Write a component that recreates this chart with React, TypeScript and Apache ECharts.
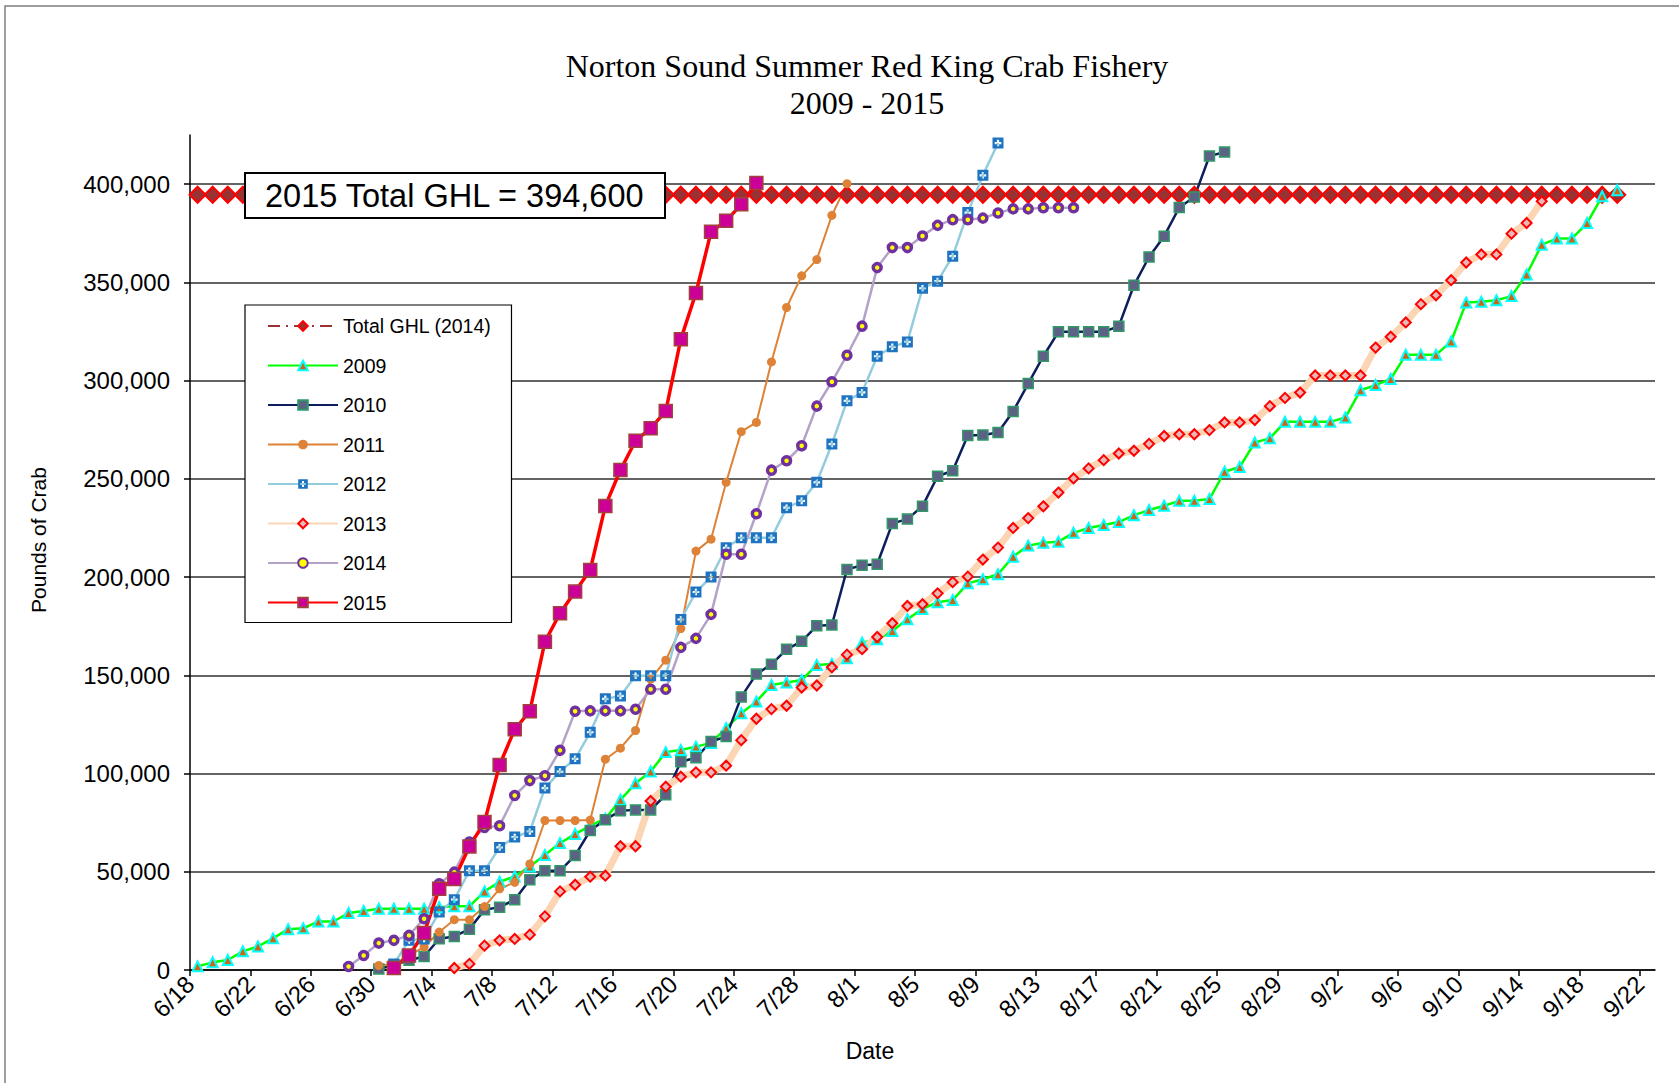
import React, { useEffect, useRef } from "react";
import * as echarts from "echarts";

// ---------- categories ----------
const MONTH_LEN: Record<number, number> = { 6: 30, 7: 31, 8: 31, 9: 30 };
function dateLabels(m: number, d: number, count: number): string[] {
  const out: string[] = [];
  for (let i = 0; i < count; i++) {
    out.push(`${m}/${d}`);
    d++;
    if (d > MONTH_LEN[m]) {
      d = 1;
      m++;
    }
  }
  return out;
}
// one slot per day, 6/18 … 9/23
const DAYS = dateLabels(6, 18, 97);
// slot boundaries (tick marks / labels), 6/18 … 9/24
const TICK_DATES = dateLabels(6, 18, 98);
const Y_TICKS = [0, 50000, 100000, 150000, 200000, 250000, 300000, 350000, 400000];

// ---------- series values (cumulative pounds) ----------
const GHL_START = "6/18";
const GHL = [
  394600, 394600, 394600, 394600, 394600, 394600, 394600, 394600, 394600, 394600,
  394600, 394600, 394600, 394600, 394600, 394600, 394600, 394600, 394600, 394600,
  394600, 394600, 394600, 394600, 394600, 394600, 394600, 394600, 394600, 394600,
  394600, 394600, 394600, 394600, 394600, 394600, 394600, 394600, 394600, 394600,
  394600, 394600, 394600, 394600, 394600, 394600, 394600, 394600, 394600, 394600,
  394600, 394600, 394600, 394600, 394600, 394600, 394600, 394600, 394600, 394600,
  394600, 394600, 394600, 394600, 394600, 394600, 394600, 394600, 394600, 394600,
  394600, 394600, 394600, 394600, 394600, 394600, 394600, 394600, 394600, 394600,
  394600, 394600, 394600, 394600, 394600, 394600, 394600, 394600, 394600, 394600,
  394600, 394600, 394600, 394600, 394600,
];

const Y2009_START = "6/18";
const Y2009 = [
  1850, 3900, 5100, 9500, 12000, 16100, 20800, 21200, 24700, 24700,
  29000, 30000, 31200, 31200, 31200, 31200, 32000, 32400, 32400, 40000,
  44900, 47600, 52700, 58500, 64600, 69200, 73500, 77000, 86600, 95000,
  101000, 110900, 112000, 113700, 115600, 123100, 130700, 136600, 145100, 146300,
  147600, 155300, 155800, 158700, 166600, 168300, 172600, 178500, 183800, 187200,
  188300, 196800, 198900, 201400, 210400, 216000, 217500, 218000, 222500, 225000,
  226500, 228000, 231500, 234100, 236300, 238800, 238800, 239700, 253600, 256000,
  268500, 270600, 279000, 279000, 279000, 279000, 281200, 295100, 297700, 300800,
  313100, 313100, 313100, 319900, 339700, 340100, 340900, 343000, 354000, 369200,
  372300, 372300, 380200, 393800, 396900,
];

const Y2010_START = "6/30";
const Y2010 = [
  500, 2500, 5000, 6900, 15900, 17100, 20800, 30700, 32000, 35800,
  45900, 50500, 50500, 58300, 71000, 76500, 81000, 81500, 81500, 89200,
  106000, 108000, 116300, 118800, 139000, 150600, 155600, 163200, 167300, 175200,
  175600, 203900, 206000, 206500, 227300, 229500, 236100, 251300, 254100, 272100,
  272300, 273600, 284300, 298500, 312400, 324800, 324800, 324800, 324800, 327700,
  348500, 362900, 373500, 388100, 393400, 414300, 416300,
];

const Y2011_START = "6/30";
const Y2011 = [
  2300, 3000, 7500, 11700, 19300, 25600, 25600, 32300, 41300, 44600,
  54000, 76100, 76100, 76100, 76300, 107300, 112900, 121900, 148000, 157700,
  173800, 213200, 219300, 248200, 274000, 278700, 309500, 337200, 353300, 361600,
  384100, 400200,
];

const Y2012_START = "7/1";
const Y2012 = [
  3000, 15100, 15800, 29500, 35800, 50500, 50500, 62400, 67700, 70500,
  92600, 101000, 107500, 121000, 138000, 139500, 149800, 149800, 149800, 178400,
  192400, 200000, 214900, 220000, 220000, 220000, 235300, 238800, 248200, 267700,
  289700, 294000, 312400, 317200, 319700, 347000, 350600, 363300, 385500, 404500,
  420900,
];

const Y2013_START = "7/5";
const Y2013 = [
  1000, 3100, 12400, 15100, 15800, 18000, 27300, 40000, 43400, 47500,
  48000, 63000, 63000, 86000, 93300, 98400, 100600, 100600, 104000, 117000,
  127900, 132800, 134500, 143800, 144800, 154100, 160500, 163300, 169500, 176500,
  185300, 186200, 191700, 197400, 200200, 208900, 215000, 225000, 230000, 236000,
  243000, 250200, 255300, 259500, 262900, 264300, 267800, 271800, 272700, 272700,
  274800, 278700, 278700, 279900, 287000, 291200, 293900, 302600, 302600, 302600,
  302600, 316800, 322300, 329600, 338900, 343400, 351100, 360100, 364200, 364200,
  374800, 380200, 391300,
];

const Y2014_START = "6/28";
const Y2014 = [
  1800, 7400, 13700, 15100, 17600, 26100, 43900, 49800, 65100, 72500,
  73400, 88800, 96400, 98900, 111800, 131700, 131900, 131900, 131900, 132700,
  142900, 142900, 164200, 168800, 181000, 211600, 211600, 232200, 254400, 259200,
  266800, 287000, 299400, 312900, 327700, 357500, 367700, 367700, 373600, 379000,
  381900, 381900, 382700, 385300, 387400, 387400, 388000, 388000, 388000,
];

const Y2015_START = "7/1";
const Y2015 = [
  1000, 7400, 18800, 41300, 46300, 62900, 75300, 104400, 122500, 131700,
  167100, 181600, 192600, 203600, 236200, 254500, 269400, 275700, 284500, 321100,
  344600, 375700, 381300, 389700, 400600,
];

// ---------- helpers ----------
function place(start: string, values: number[]): (number | null)[] {
  const i0 = DAYS.indexOf(start);
  const arr: (number | null)[] = DAYS.map(() => null);
  values.forEach((v, k) => {
    arr[i0 + k] = v;
  });
  return arr;
}

const SANS = '"Liberation Sans", Arial, Helvetica, sans-serif';
const SERIF = '"Liberation Serif", "Times New Roman", serif';

// square with a plus-shaped hole (2012 marker)
const PLUS_SQUARE =
  "path://M0 0 L10 0 L10 10 L0 10 Z M4 2 L4 4 L2 4 L2 6 L4 6 L4 8 L6 8 L6 6 L8 6 L8 4 L6 4 L6 2 Z";

export default function App() {
  const ref = useRef<HTMLDivElement>(null);

  useEffect(() => {
    if (!ref.current) return;
    const chart = echarts.init(ref.current, undefined, { renderer: "svg" });

    const lineBase = {
      type: "line" as const,
      xAxisIndex: 0,
      yAxisIndex: 0,
      showAllSymbol: true,
      connectNulls: false,
    };

    const option: any = {
      animation: false,
      backgroundColor: "#ffffff",
      grid: { left: 190, right: 24, top: 135, bottom: 113, containLabel: false },
      xAxis: [
        {
          type: "category",
          data: DAYS,
          boundaryGap: true,
          show: false,
          gridIndex: 0,
        },
        {
          type: "category",
          data: TICK_DATES,
          boundaryGap: false,
          position: "bottom",
          gridIndex: 0,
          axisLine: { show: true, onZero: false, lineStyle: { color: "#000", width: 1.5 } },
          axisTick: { show: true, interval: 3, length: 6, lineStyle: { color: "#000", width: 1.5 } },
          axisLabel: {
            interval: 3,
            rotate: 45,
            margin: 10,
            fontSize: 24,
            color: "#000",
            fontFamily: SANS,
          },
          splitLine: { show: false },
        },
      ],
      yAxis: {
        type: "value",
        min: 0,
        max: 425000,
        interval: 50000,
        axisLine: { show: true, lineStyle: { color: "#000", width: 1.5 } },
        axisTick: {
          show: true,
          length: 6,
          customValues: Y_TICKS,
          lineStyle: { color: "#000", width: 1.5 },
        },
        axisLabel: {
          customValues: Y_TICKS,
          margin: 20,
          fontSize: 24,
          color: "#000",
          fontFamily: SANS,
          formatter: (v: number) => v.toLocaleString("en-US"),
        },
        splitLine: {
          show: true,
          lineStyle: { color: "#303030", width: 1.5 },
        },
      },
      legend: {
        orient: "vertical",
        left: 245,
        top: 305,
        padding: [11, 20, 10, 22],
        itemGap: 19.5,
        itemWidth: 70,
        itemHeight: 12,
        backgroundColor: "#ffffff",
        borderColor: "#000",
        borderWidth: 1.2,
        textStyle: { fontSize: 19.5, color: "#000", fontFamily: SANS },
        data: ["Total GHL (2014)", "2009", "2010", "2011", "2012", "2013", "2014", "2015"],
        z: 20,
      },
      series: [
        {
          ...lineBase,
          name: "Total GHL (2014)",
          data: place(GHL_START, GHL),
          symbol: "diamond",
          symbolSize: 16,
          itemStyle: { color: "#993333", borderColor: "#ff0000", borderWidth: 2 },
          lineStyle: { color: "#993333", width: 2, type: [12, 6, 2, 6] },
        },
        {
          ...lineBase,
          name: "2009",
          data: place(Y2009_START, Y2009),
          symbol: "triangle",
          symbolSize: 10,
          itemStyle: { color: "#cc6614", borderColor: "#00ffff", borderWidth: 2 },
          lineStyle: { color: "#00ff00", width: 2.5 },
        },
        {
          ...lineBase,
          name: "2010",
          data: place(Y2010_START, Y2010),
          symbol: "rect",
          symbolSize: 10,
          itemStyle: { color: "#5d6185", borderColor: "#2f9a66", borderWidth: 1.5 },
          lineStyle: { color: "#0c1f5c", width: 2.5 },
        },
        {
          ...lineBase,
          name: "2011",
          data: place(Y2011_START, Y2011),
          symbol: "circle",
          symbolSize: 9,
          itemStyle: { color: "#dd8236" },
          lineStyle: { color: "#dd8236", width: 2 },
        },
        {
          ...lineBase,
          name: "2012",
          data: place(Y2012_START, Y2012),
          symbol: PLUS_SQUARE,
          symbolSize: 11,
          itemStyle: { color: "#1f74c2" },
          lineStyle: { color: "#93cddd", width: 2.5 },
        },
        {
          ...lineBase,
          name: "2013",
          data: place(Y2013_START, Y2013),
          symbol: "diamond",
          symbolSize: 10,
          itemStyle: { color: "#e6b8b7", borderColor: "#ff0000", borderWidth: 2 },
          lineStyle: { color: "#fcd5b5", width: 7 },
        },
        {
          ...lineBase,
          name: "2014",
          data: place(Y2014_START, Y2014),
          symbol: "circle",
          symbolSize: 8,
          itemStyle: { color: "#ffff00", borderColor: "#7030a0", borderWidth: 3.5 },
          lineStyle: { color: "#b3a2c7", width: 2.5 },
        },
        {
          ...lineBase,
          name: "2015",
          data: place(Y2015_START, Y2015),
          symbol: "rect",
          symbolSize: 13,
          itemStyle: { color: "#cc0099", borderColor: "#a0413c", borderWidth: 1.5 },
          lineStyle: { color: "#ff0000", width: 3.5 },
        },
      ],
      graphic: [
        {
          type: "rect",
          silent: true,
          z: -10,
          shape: { x: 5, y: 6, width: 1700, height: 1100 },
          style: { fill: "none", stroke: "#7f7f7f", lineWidth: 1.5 },
        },
        {
          type: "text",
          z: 100,
          x: 867,
          y: 66,
          style: {
            text: "Norton Sound Summer Red King Crab Fishery",
            fontSize: 32,
            fontFamily: SERIF,
            fill: "#000",
            align: "center",
            verticalAlign: "middle",
          },
        },
        {
          type: "text",
          z: 100,
          x: 867,
          y: 103,
          style: {
            text: "2009 - 2015",
            fontSize: 32,
            fontFamily: SERIF,
            fill: "#000",
            align: "center",
            verticalAlign: "middle",
          },
        },
        {
          type: "text",
          z: 100,
          x: 38,
          y: 540,
          rotation: Math.PI / 2,
          style: {
            text: "Pounds of Crab",
            fontSize: 21,
            fontFamily: SANS,
            fill: "#000",
            align: "center",
            verticalAlign: "middle",
          },
        },
        {
          type: "text",
          z: 100,
          x: 870,
          y: 1051,
          style: {
            text: "Date",
            fontSize: 23,
            fontFamily: SANS,
            fill: "#000",
            align: "center",
            verticalAlign: "middle",
          },
        },
        {
          type: "rect",
          z: 100,
          shape: { x: 245, y: 173, width: 420, height: 45 },
          style: { fill: "#ffffff", stroke: "#000", lineWidth: 2 },
        },
        {
          type: "text",
          z: 101,
          x: 265,
          y: 196,
          style: {
            text: "2015 Total GHL = 394,600",
            fontSize: 32.5,
            fontFamily: SANS,
            fill: "#000",
            align: "left",
            verticalAlign: "middle",
          },
        },
      ],
    };

    chart.setOption(option);
    return () => {
      chart.dispose();
    };
  }, []);

  return (
    <div
      ref={ref}
      style={{ position: "absolute", left: 0, top: 0, width: 1679, height: 1083, background: "#fff" }}
    />
  );
}
